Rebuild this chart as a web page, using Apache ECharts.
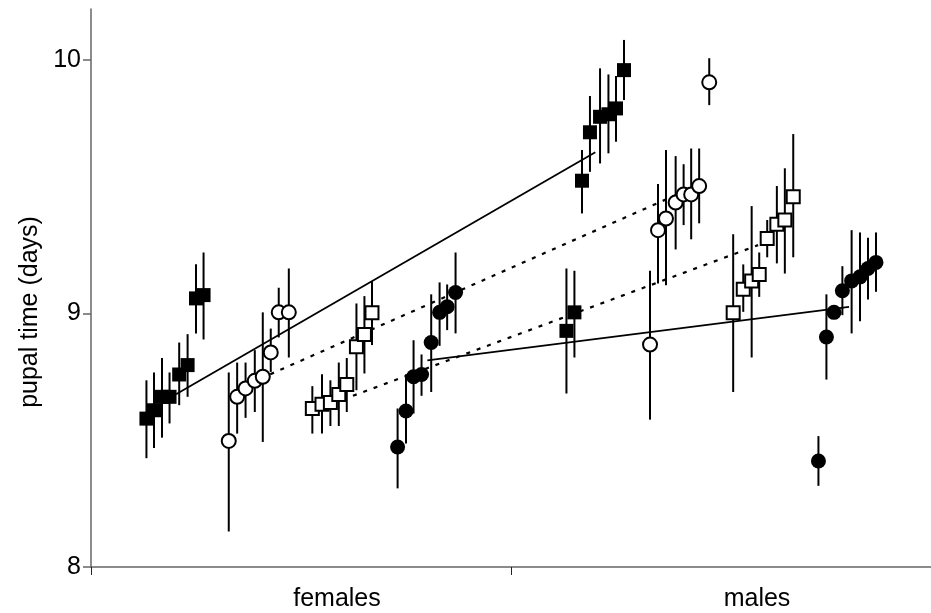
<!DOCTYPE html>
<html>
<head>
<meta charset="utf-8">
<script src="https://cdn.jsdelivr.net/npm/echarts@6/dist/echarts.min.js"></script>
<style>html,body{margin:0;padding:0;background:#fff}#c{width:931px;height:613px}</style>
</head>
<body>
<div id="c"></div>
<script>
// Category labels
const categories = ['females', 'males'];
const yTicks = [8, 9, 10];

// Each point: [x position (0..2 across the two categories), mean, lower, upper]
const femFilledSquares = [
  [0.132, 8.585, 8.429, 8.736], [0.150, 8.618, 8.469, 8.767], [0.169, 8.671, 8.510, 8.824], [0.187, 8.671, 8.566, 8.767],
  [0.210, 8.759, 8.638, 8.885], [0.230, 8.796, 8.671, 8.918], [0.250, 9.059, 8.921, 9.194], [0.268, 9.072, 8.897, 9.240]
];
const femOpenCircles = [
  [0.328, 8.497, 8.140, 8.767], [0.348, 8.671, 8.526, 8.806], [0.368, 8.704, 8.588, 8.806], [0.390, 8.734, 8.611, 8.855],
  [0.409, 8.750, 8.493, 9.004], [0.428, 8.846, 8.769, 8.940], [0.447, 9.004, 8.905, 9.101], [0.471, 9.004, 8.826, 9.177]
];
const femOpenSquares = [
  [0.527, 8.625, 8.526, 8.713], [0.550, 8.642, 8.526, 8.760], [0.570, 8.649, 8.556, 8.736], [0.590, 8.680, 8.556, 8.806],
  [0.609, 8.720, 8.611, 8.824], [0.632, 8.868, 8.697, 9.039], [0.651, 8.917, 8.763, 9.068], [0.669, 9.002, 8.875, 9.127]
];
const femFilledCircles = [
  [0.730, 8.473, 8.310, 8.625], [0.750, 8.615, 8.487, 8.760], [0.768, 8.750, 8.605, 8.894], [0.787, 8.759, 8.675, 8.838],
  [0.810, 8.885, 8.690, 9.075], [0.830, 9.004, 8.872, 9.122], [0.848, 9.026, 8.934, 9.114], [0.868, 9.082, 8.921, 9.240]
];
const maleFilledSquares = [
  [1.132, 8.931, 8.684, 9.177], [1.151, 9.004, 8.826, 9.168], [1.169, 9.523, 9.394, 9.644], [1.188, 9.714, 9.558, 9.857],
  [1.212, 9.775, 9.591, 9.966], [1.232, 9.785, 9.631, 9.942], [1.250, 9.808, 9.677, 9.936], [1.269, 9.959, 9.841, 10.078]
];
const maleOpenCircles = [
  [1.331, 8.877, 8.581, 9.168], [1.350, 9.328, 9.118, 9.510], [1.369, 9.374, 9.111, 9.644], [1.392, 9.437, 9.252, 9.620],
  [1.411, 9.469, 9.348, 9.588], [1.429, 9.469, 9.292, 9.650], [1.448, 9.502, 9.355, 9.650], [1.472, 9.911, 9.821, 10.006]
];
const maleOpenSquares = [
  [1.529, 9.002, 8.690, 9.312], [1.553, 9.095, 9.006, 9.193], [1.573, 9.128, 8.826, 9.423], [1.591, 9.153, 9.065, 9.240],
  [1.610, 9.295, 9.221, 9.368], [1.633, 9.351, 9.197, 9.502], [1.652, 9.368, 9.157, 9.572], [1.672, 9.460, 9.221, 9.707]
];
const maleFilledCircles = [
  [1.732, 8.418, 8.320, 8.516], [1.751, 8.907, 8.739, 9.075], [1.769, 9.004, 8.980, 9.030], [1.789, 9.089, 8.993, 9.186],
  [1.811, 9.128, 8.921, 9.328], [1.831, 9.144, 8.969, 9.319], [1.850, 9.177, 9.055, 9.298], [1.869, 9.201, 9.085, 9.319]
];

// Fitted lines: [[x1, y1], [x2, y2]]
const lineFilledSquares = [[0.2025, 8.681], [1.2008, 9.635]];
const lineOpenCircles = [[0.4269, 8.760], [1.4056, 9.476]];
const lineOpenSquares = [[0.6237, 8.675], [1.5883, 9.269]];
const lineFilledCircles = [[0.8009, 8.815], [1.8049, 9.026]];

const FONT = 'Liberation Sans, Arial, sans-serif';

function errBars(data) {
  return {
    type: 'custom', xAxisIndex: 0, yAxisIndex: 0, z: 2, silent: true,
    data: data.map(d => [d[0], d[2], d[3]]),
    renderItem: function (params, api) {
      const p1 = api.coord([api.value(0), api.value(1)]);
      const p2 = api.coord([api.value(0), api.value(2)]);
      return { type: 'line', shape: { x1: p1[0], y1: p1[1], x2: p2[0], y2: p2[1] },
               style: { stroke: '#000', lineWidth: 2 } };
    }
  };
}
function markers(data, symbol, size, filled) {
  return {
    type: 'scatter', xAxisIndex: 0, yAxisIndex: 0, z: 4, symbol: symbol, symbolSize: size,
    data: data.map(d => [d[0], d[1]]),
    itemStyle: filled ? { color: '#000', borderWidth: 0, opacity: 1 }
                      : { color: '#fff', borderColor: '#000', borderWidth: 2, opacity: 1 }
  };
}
function fitLine(pts, dotted) {
  return {
    type: 'line', xAxisIndex: 0, yAxisIndex: 0, z: 3, symbol: 'none', silent: true,
    data: pts,
    lineStyle: { color: '#000', width: dotted ? 2.2 : 1.8, type: dotted ? [4, 7] : 'solid' }
  };
}

const chart = echarts.init(document.getElementById('c'), null, { renderer: 'canvas' });
chart.setOption({
  animation: false,
  backgroundColor: '#fff',
  grid: { left: 91, width: 847, top: 9, bottom: 46 },
  xAxis: [
    { type: 'value', min: 0, max: 2, show: false },
    {
      type: 'category', data: categories, boundaryGap: true, position: 'bottom',
      axisLine: { show: true, lineStyle: { color: '#666', width: 1.5 } },
      axisTick: { show: true, length: 8, alignWithLabel: false, lineStyle: { color: '#222', width: 1 } },
      axisLabel: { show: true, color: '#000', fontFamily: FONT, fontSize: 25, margin: 20, padding: [0, 0, 0, 72] },
      splitLine: { show: false }
    }
  ],
  yAxis: {
    type: 'value', min: 8, max: 10.2, interval: 1,
    name: 'pupal time (days)', nameLocation: 'middle', nameGap: 47, nameRotate: 90,
    nameTextStyle: { color: '#000', fontFamily: FONT, fontSize: 25, padding: [0, 48, 0, 0] },
    axisLine: { show: true, lineStyle: { color: '#666', width: 1.5 } },
    axisTick: { show: true, length: 8, lineStyle: { color: '#666', width: 1.5 } },
    axisLabel: { color: '#000', fontFamily: FONT, fontSize: 25, margin: 10, showMaxLabel: false,
                 formatter: v => (yTicks.indexOf(v) >= 0 ? String(v) : '') },
    splitLine: { show: false }
  },
  series: [
    fitLine(lineFilledSquares, false),
    fitLine(lineOpenCircles, true),
    fitLine(lineOpenSquares, true),
    fitLine(lineFilledCircles, false),
    errBars(femFilledSquares), errBars(femOpenCircles), errBars(femOpenSquares), errBars(femFilledCircles),
    errBars(maleFilledSquares), errBars(maleOpenCircles), errBars(maleOpenSquares), errBars(maleFilledCircles),
    markers(femFilledSquares, 'rect', 14, true),
    markers(femOpenCircles, 'circle', 14, false),
    markers(femOpenSquares, 'rect', 13, false),
    markers(femFilledCircles, 'circle', 15, true),
    markers(maleFilledSquares, 'rect', 14, true),
    markers(maleOpenCircles, 'circle', 14, false),
    markers(maleOpenSquares, 'rect', 13, false),
    markers(maleFilledCircles, 'circle', 15, true)
  ]
});
</script>
</body>
</html>
